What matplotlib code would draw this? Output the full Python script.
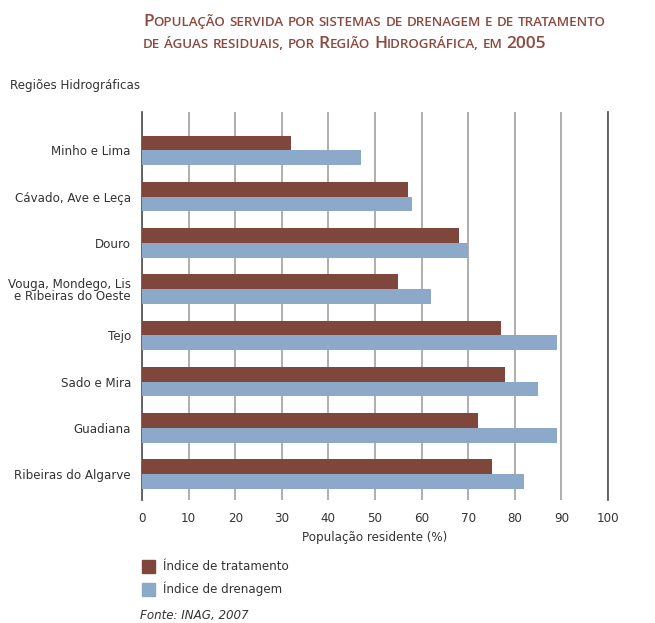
import matplotlib
matplotlib.use('Agg')
import matplotlib.pyplot as plt
import matplotlib.patches as mpatches
import numpy as np

plt.rcParams['font.family'] = ['DejaVu Sans']

# dados
regioes = ['Minho e Lima', 'Cávado, Ave e Leça', 'Douro',
           'Vouga, Mondego, Lis\ne Ribeiras do Oeste', 'Tejo', 'Sado e Mira',
           'Guadiana', 'Ribeiras do Algarve']
indice_tratamento = [32, 57, 68, 55, 77, 78, 72, 75]
indice_drenagem = [47, 58, 70, 62, 89, 85, 89, 82]
x_ticks = [0, 10, 20, 30, 40, 50, 60, 70, 80, 90, 100]

cor_trat = '#7F473C'
cor_dren = '#8DA9C9'
cor_titulo = '#8A4A3F'
cor_texto = '#333333'
fs = 8.6

W, H = 655, 623
fig = plt.figure(figsize=(W / 100, H / 100), dpi=100)
ax = fig.add_axes([142 / W, 1 - 499.5 / H, 466 / W, (499.5 - 112) / H])

y = np.arange(len(regioes))
h = 0.32
ax.barh(y - h / 2, indice_tratamento, height=h, color=cor_trat,
        linewidth=0, zorder=3)
ax.barh(y + h / 2, indice_drenagem, height=h, color=cor_dren,
        linewidth=0, zorder=3)

ax.set_xlim(0, 100)
ax.set_ylim(7.55, -0.83)
ax.set_xticks(x_ticks)
ax.set_yticks(y)
ax.set_yticklabels(regioes, fontsize=fs, color=cor_texto, linespacing=0.9)
ax.tick_params(axis='both', length=0, labelsize=fs, colors=cor_texto)
ax.tick_params(axis='y', pad=8)
ax.tick_params(axis='x', pad=9)
ax.xaxis.grid(True, color='#A8A8A8', linewidth=1.3, zorder=0)
ax.set_axisbelow(True)
for s in ['top', 'bottom']:
    ax.spines[s].set_visible(False)
for s in ['left', 'right']:
    ax.spines[s].set_color('#5A5A5A')
    ax.spines[s].set_linewidth(1.3)
ax.set_xlabel('População residente (%)', fontsize=fs, color=cor_texto, labelpad=4)

fig.text(10 / W, 1 - 85 / H, 'Regiões Hidrográficas', fontsize=fs,
         color=cor_texto, va='center', ha='left')

# legenda
handles = [mpatches.Patch(color=cor_trat, label='Índice de tratamento'),
           mpatches.Patch(color=cor_dren, label='Índice de drenagem')]
fig.legend(handles=handles, loc='upper left', bbox_to_anchor=(131 / W, 1 - 549 / H),
           frameon=False, fontsize=fs, handlelength=1.1, handleheight=1.3,
           handletextpad=0.7, labelspacing=0.7, labelcolor=cor_texto)

fig.text(140 / W, 1 - 615 / H, 'Fonte: INAG, 2007', fontsize=fs, style='italic',
         color=cor_texto, va='center', ha='left')


# titulo em versaletes (small caps) feito a mao
def versaletes(texto, x0, y0, big, small):
    renderer = fig.canvas.get_renderer()
    x = x0
    espaco = small * 0.3 * 100 / 72
    for palavra in texto.split(' '):
        runs = []
        for c in palavra:
            tipo = c.isupper() or c.isdigit()
            if runs and runs[-1][0] == tipo:
                runs[-1][1] += c
            else:
                runs.append([tipo, c])
        for tipo, s in runs:
            t = fig.text(x / W, 1 - y0 / H, s.upper(), fontsize=big if tipo else small,
                         color=cor_titulo, ha='left', va='baseline',
                         family='Open Sans', weight='semibold')
            bb = t.get_window_extent(renderer)
            x += bb.width
        x += espaco


versaletes('População servida por sistemas de drenagem e de tratamento', 143, 26, 12.5, 9.6)
versaletes('de águas residuais, por Região Hidrográfica, em 2005', 143, 48, 12.5, 9.6)

fig.savefig('out.png', dpi=100)
